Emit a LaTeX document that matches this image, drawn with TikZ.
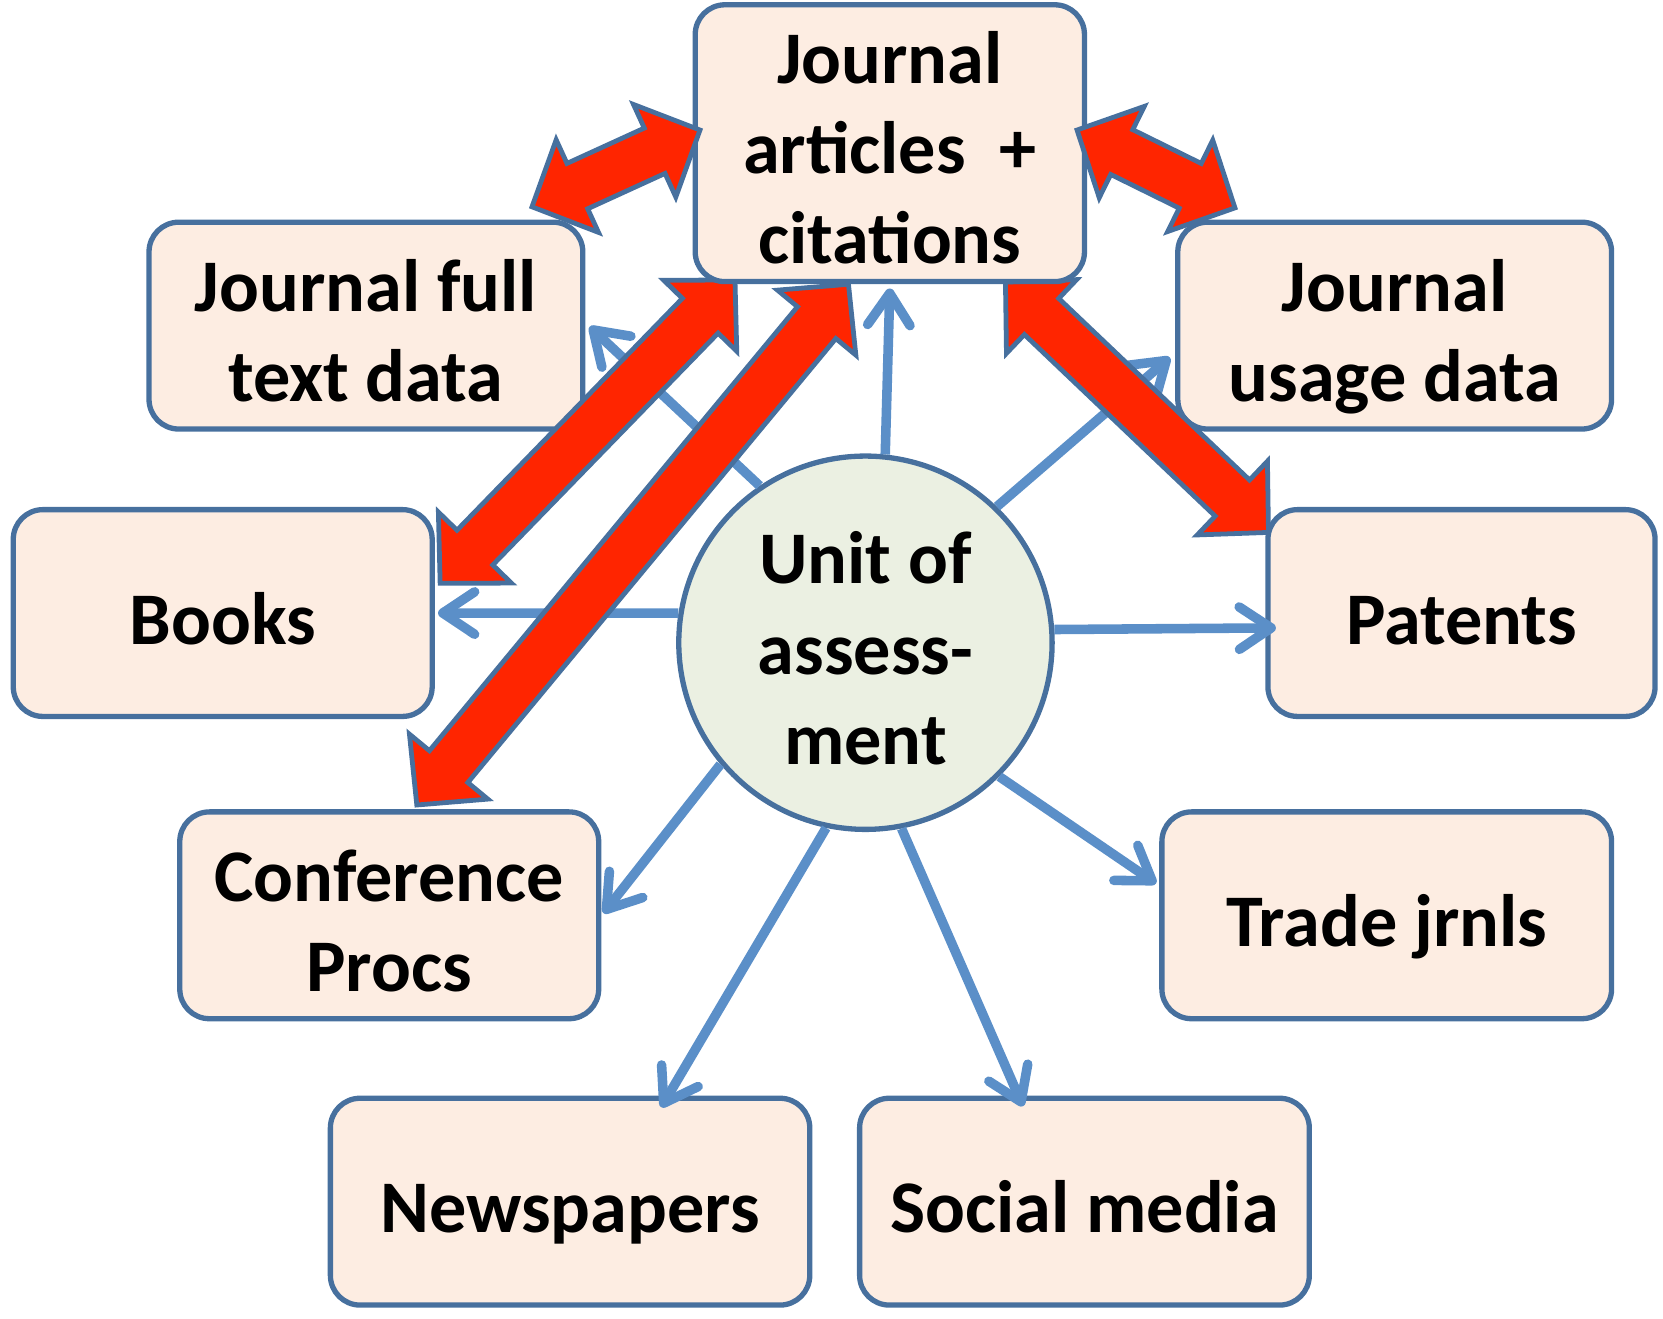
\documentclass[tikz,border=0pt]{standalone}
\usepackage{fontspec}
\setmainfont{Carlito}
\usetikzlibrary{arrows.meta,calc}
\definecolor{boxfill}{HTML}{FDEDE2}
\definecolor{boxline}{HTML}{47709E}
\definecolor{circfill}{HTML}{EBF0E2}
\definecolor{bluearr}{HTML}{5B8FC8}
\definecolor{redarr}{HTML}{FF2500}
\pgfdeclarelayer{bg}
\pgfdeclarelayer{mid}
\pgfsetlayers{bg,mid,main}
\newcommand{\topstrutx}{\rule{0pt}{76pt}}
\newcommand{\botstrutx}{\rule[-17pt]{0pt}{17pt}}
\newcommand{\blockarrow}[2]{%
  \coordinate (hA) at ($(#1)!47pt!(#2)$);
  \coordinate (hB) at ($(#2)!47pt!(#1)$);
  \filldraw[redblock] (#1) -- ($(hA)!48pt!90:(#2)$) -- ($(hA)!23.5pt!90:(#2)$)
    -- ($(hB)!23.5pt!-90:(#1)$) -- ($(hB)!48pt!-90:(#1)$) -- (#2)
    -- ($(hB)!48pt!90:(#1)$) -- ($(hB)!23.5pt!90:(#1)$)
    -- ($(hA)!23.5pt!-90:(#2)$) -- ($(hA)!48pt!-90:(#2)$) -- cycle;}
\tikzset{
  txt/.style={align=center, inner sep=0pt, font=\bfseries\fontsize{70}{85}\selectfont,
    execute at begin node=\topstrutx, execute at end node=\botstrutx},
  box/.style={txt, draw=boxline, fill=boxfill, line width=5pt, rounded corners=28pt,
    minimum height=195pt},
  unit/.style={txt, circle, draw=boxline, fill=circfill, line width=5pt, minimum size=352pt},
  bluearrow/.style={draw=bluearr, line width=9pt,
    -{Straight Barb[length=30pt, width=40pt, round]}},
  redblock/.style={draw=boxline, fill=redarr, line width=4.5pt, line join=miter}
}
\begin{document}
\begin{tikzpicture}[x=1pt, y=-1pt]
\useasboundingbox (0,0) rectangle (1568,1243);
% top box (front layer)
\node[box, minimum width=367pt, minimum height=249pt,
  execute at begin node={}, execute at end node={}] (ja) at (839,135)
  {\rule{0pt}{74pt}Journal\\articles~~+\\citations\rule[-5pt]{0pt}{5pt}};
\begin{pgfonlayer}{bg}
\node[box, minimum width=409pt] (jft) at (345,307) {\topstrutx Journal full\\text data\botstrutx};
\node[box, minimum width=409pt] (jud) at (1315,307) {\topstrutx Journal\\usage data\botstrutx};
\node[box, minimum width=395pt] (books) at (210,578) {Books};
\node[box, minimum width=365pt] (pat) at (1378,578) {Patents};
\node[box, minimum width=395pt] (conf) at (367,863) {\topstrutx Conference\\Procs\botstrutx};
\node[box, minimum width=424pt] (trade) at (1307.5,863) {Trade jrnls};
\node[box, minimum width=452pt] (news) at (537.5,1133) {Newspapers};
\node[box, minimum width=424pt] (soc) at (1022.5,1133) {Social media};
\node[unit] (uoa) at (816,606) {\topstrutx Unit of\\assess-\\ment\botstrutx};
\draw[bluearrow] (uoa.84) -- ($(ja.south)+(0,4)$);
\draw[bluearrow] (uoa.124) -- ($(jft.east)+(4,1)$);
\draw[bluearrow] (uoa.46.6) -- ($(jud.west)+(-5,30)$);
\draw[bluearrow] (uoa.171) -- ($(books.east)+(3,0)$);
\draw[bluearrow] (uoa.4.2) -- ($(pat.west)+(10,14)$);
\draw[bluearrow] (uoa.220.5) -- ($(conf.east)+(2,-2)$);
\draw[bluearrow] (uoa.258) -- ($(news.north)+(86,11)$);
\draw[bluearrow] (uoa.281) -- ($(soc.north)+(-58,10)$);
\draw[bluearrow] (uoa.315.7) -- ($(trade.west)+(-3,-30)$);
\end{pgfonlayer}
% red block arrow tips
\coordinate (r1a) at (501.6,195);
\coordinate (r1b) at (660,122.6);
\coordinate (r2a) at (1015.5,122.6);
\coordinate (r2b) at (1164.4,196);
\coordinate (r3a) at (693,264);
\coordinate (r3b) at (415,550);
\coordinate (r4a) at (800,268);
\coordinate (r4b) at (393,759);
\coordinate (r5a) at (948,266);
\coordinate (r5b) at (1196,502);
\begin{pgfonlayer}{mid}
\blockarrow{r3a}{r3b}
\blockarrow{r4a}{r4b}
\blockarrow{r5a}{r5b}
\end{pgfonlayer}
\blockarrow{r1a}{r1b}
\blockarrow{r2a}{r2b}
\end{tikzpicture}
\end{document}
